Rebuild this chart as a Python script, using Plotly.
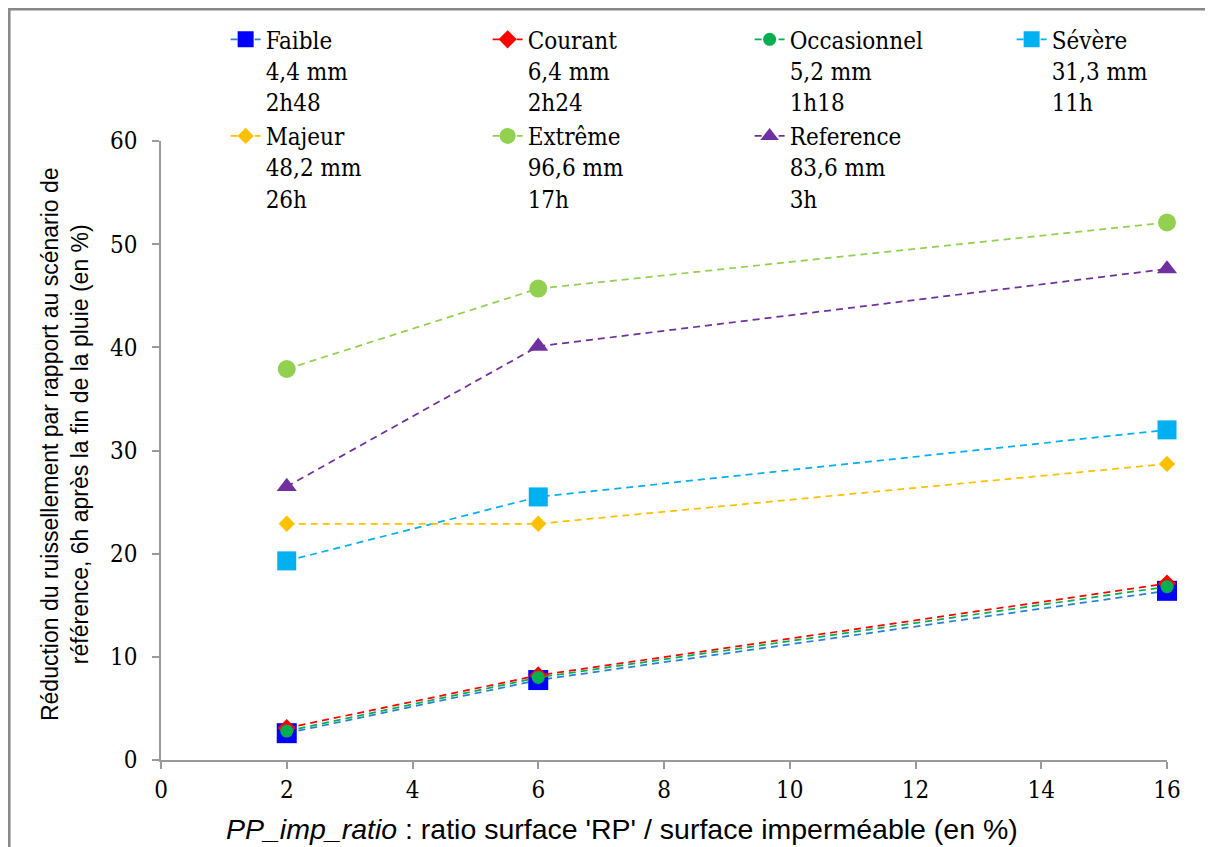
import plotly.graph_objects as go

x_ratio = [2, 6, 16]

series_names = ["Faible", "Courant", "Occasionnel", "Sévère", "Majeur", "Extrême", "Reference"]
series_rain = ["4,4 mm", "6,4 mm", "5,2 mm", "31,3 mm", "48,2 mm", "96,6 mm", "83,6 mm"]
series_duration = ["2h48", "2h24", "1h18", "11h", "26h", "17h", "3h"]

faible = [2.6, 7.75, 16.4]
courant = [3.1, 8.2, 17.1]
occasionnel = [2.8, 8.0, 16.8]
severe = [19.3, 25.5, 32.0]
majeur = [22.9, 22.9, 28.7]
extreme = [37.9, 45.7, 52.1]
reference = [26.5, 40.1, 47.6]

values = [faible, courant, occasionnel, severe, majeur, extreme, reference]
line_colors = ["#2A7FD4", "#FF0000", "#00B050", "#00B0F0", "#FFC000", "#92D050", "#7030A0"]
marker_colors = ["#0000FF", "#FF0000", "#00B050", "#00B0F0", "#FFC000", "#92D050", "#7030A0"]
symbols = ["square", "diamond", "circle", "square", "diamond", "circle", "triangle-up"]
sizes = [20, 14, 13, 19, 12.5, 18, 17.5]

x_ticks = [0, 2, 4, 6, 8, 10, 12, 14, 16]
y_ticks = [0, 10, 20, 30, 40, 50, 60]

SERIF = "DejaVu Serif Condensed, DejaVu Serif, serif"
SANS = "Liberation Sans Narrow, Liberation Sans, sans-serif"

fig = go.Figure()
for name, rain, dur, vals, lc, mc, sym, sz in zip(series_names, series_rain, series_duration,
                                                   values, line_colors, marker_colors, symbols, sizes):
    fig.add_trace(go.Scatter(
        x=x_ratio, y=vals, mode="lines+markers",
        name=f"{name}<br>{rain}<br>{dur}",
        line=dict(color=lc, width=1.75, dash="7px,5px"),
        marker=dict(color=mc, symbol=sym, size=sz, line=dict(width=0)),
        cliponaxis=False,
    ))

axis_color = "#9A9A9A"
fig.update_xaxes(range=[0, 16], tickvals=x_ticks, ticks="outside", ticklen=7, tickwidth=1.5,
                 tickcolor=axis_color, showline=True, linecolor=axis_color, linewidth=1.5,
                 showgrid=False, zeroline=False, tickfont=dict(family=SERIF, size=24, color="black"))
fig.update_yaxes(range=[0, 60], tickvals=y_ticks, ticks="outside", ticklen=7, tickwidth=1.5,
                 tickcolor=axis_color, showline=True, linecolor=axis_color, linewidth=1.5,
                 showgrid=False, zeroline=False, tickfont=dict(family=SERIF, size=24, color="black"),
                 ticklabelstandoff=10)

fig.add_annotation(xref="paper", yref="paper", x=-0.0954, y=0.5105, textangle=-90,
                   xanchor="center", yanchor="middle", showarrow=False,
                   text="Réduction du ruissellement par rapport au scénario de<br>référence, 6h après la fin de la pluie (en %)",
                   font=dict(family=SANS, size=23, color="black"))
fig.add_annotation(xref="paper", yref="paper", x=0.458, y=-0.112,
                   xanchor="center", yanchor="middle", showarrow=False,
                   text="<i>PP_imp_ratio</i> : ratio surface 'RP' / surface imperméable (en %)",
                   font=dict(family=SANS, size=28.5, color="black"))

fig.add_shape(type="rect", xref="paper", yref="paper",
              x0=-0.1508, y0=-0.16, x1=1.06, y1=1.2127,
              line=dict(color="#878787", width=2.5), fillcolor="rgba(0,0,0,0)", layer="below")

fig.update_layout(
    width=1205, height=839,
    margin=dict(l=153, r=46, t=133, b=87, autoexpand=False),
    paper_bgcolor="white", plot_bgcolor="white",
    showlegend=True,
    legend=dict(orientation="h", x=1.106, y=1.2, xanchor="right", yanchor="top",
                entrywidth=217, valign="top", itemsizing="trace",
                font=dict(family=SERIF, size=24, color="black"),
                bgcolor="rgba(0,0,0,0)", tracegroupgap=0),
)

fig.write_html("out.html")
